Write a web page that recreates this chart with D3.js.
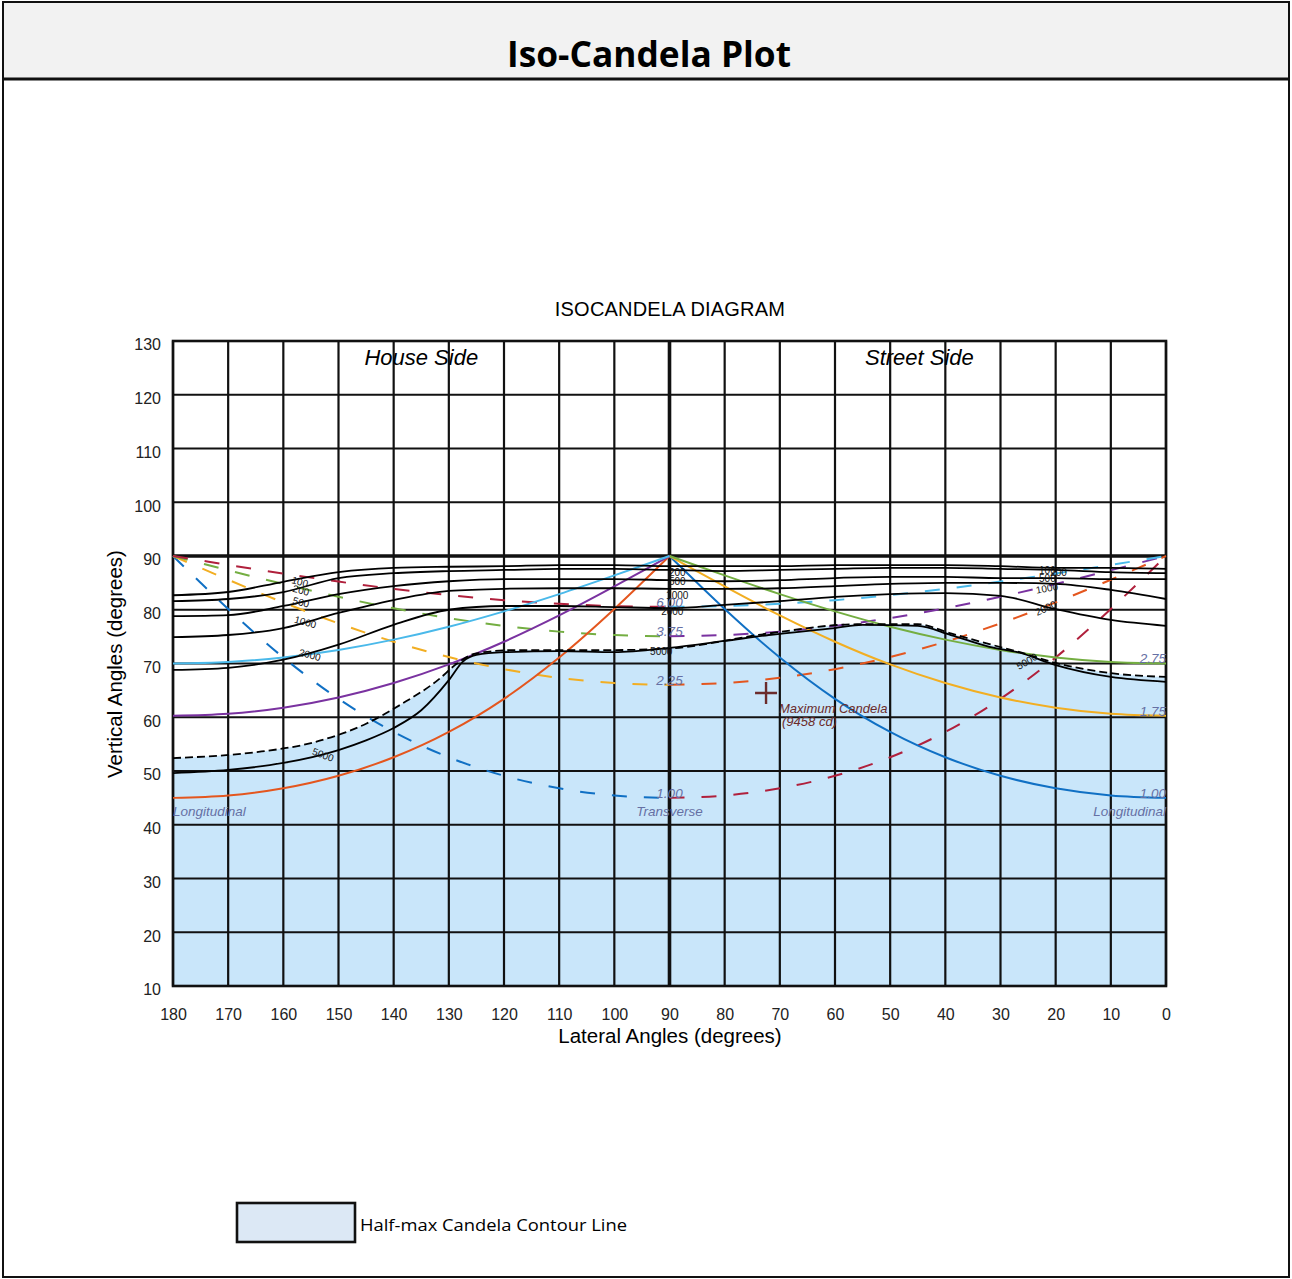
<!DOCTYPE html>
<meta charset="utf-8">
<style>
body { margin: 0; background: #fff; }
svg text { font-family: "Liberation Sans", Arial, sans-serif; }
.grid line { stroke: #111; stroke-width: 2.2; }
.grid line.main { stroke-width: 3.6; }
.contour { fill: none; stroke: #000; stroke-width: 1.8; }
.ref { fill: none; stroke-width: 2; }
.axis text { font-size: 16px; fill: #222; }
.clabel { font-size: 10px; fill: #111; }
.note { font-size: 13.5px; font-style: italic; fill: #6670a4; }
</style>
<svg width="1292" height="1279"></svg>
<script src="https://d3js.org/d3.v7.min.js"></script>
<script>
var svg = d3.select("svg"),
    width = +svg.attr("width"),
    height = +svg.attr("height");

// tick labels
var xTicks = [180,170,160,150,140,130,120,110,100,90,80,70,60,50,40,30,20,10,0];
var yTicks = [130,120,110,100,90,80,70,60,50,40,30,20,10];

// iso-candela contours, vertical angle at each lateral angle
var lateral = [180,170,160,150,140,130,120,110,100,90,80,70,60,50,40,30,20,10,0];
var c100  = [82.7,83.3,85.2,87.0,87.8,88.0,88.1,88.3,88.3,88.1,88.1,88.1,88.3,88.3,88.3,88.1,87.8,87.8,87.6];
var c200  = [81.6,82.0,83.3,85.9,86.8,87.2,87.4,87.6,87.6,87.4,87.2,87.4,87.6,87.8,87.8,87.6,87.4,87.0,86.8];
var c500  = [78.8,79.0,80.7,82.9,84.4,85.3,85.7,85.7,85.7,85.5,85.3,85.5,85.9,86.1,86.1,85.9,85.9,85.7,85.7];
var c1000 = [74.9,75.3,76.6,79.4,81.8,83.5,83.9,84.0,84.0,83.9,83.9,84.0,84.4,84.8,85.0,85.0,84.8,83.7,82.0];
var c2000 = [68.8,69.2,70.7,73.5,77.2,80.0,80.7,80.7,80.5,80.3,80.9,81.6,82.4,82.9,83.1,82.6,80.1,78.1,77.0];

var lateral5000 = [180,170,160,150,145,140,135,130,127.5,125,120,110,100,90,80,72,60,55,45,39,32,26.5,20,10,0];
var c5000 = [49.6,50.2,51.5,53.9,55.7,58.0,61.3,66.9,70.3,71.6,72.1,72.3,72.1,72.9,74.2,75.3,76.6,77.2,77.0,75.3,73.1,72.0,69.7,67.5,66.6];

var lateralHalf = [180,165,155,145,138.5,132,128.5,125,118,100,90,72,56,45,39,32,26.5,20,10,0];
var halfMax = [52.4,53.5,55.2,58.8,62.5,66.9,70.0,71.9,72.5,72.5,72.8,75.6,77.3,77.3,75.6,73.6,72.1,70.1,68.2,67.5];

// reference lines: transverse (house side lateral 90..180, street side mirrored)
var transLateral = [90,100,110,120,130,140,150,160,170,175,180];
var trans100 = [45.0,45.44,46.78,49.11,52.55,57.27,63.43,71.12,80.15,85.02,90];
var trans225 = [66.04,66.36,67.33,68.95,71.20,74.05,77.47,81.36,85.59,87.78,90];
var trans375 = [75.07,75.29,75.93,77.00,78.45,80.27,82.41,84.79,87.35,88.67,90];
var trans600 = [80.54,80.68,81.10,81.79,82.72,83.88,85.24,86.74,88.34,89.17,90];

// longitudinal (street side lateral 0..90, house side mirrored)
var longLateral = [0,10,20,30,40,50,60,70,80,85,90];
var long100 = [45.0,45.44,46.78,49.11,52.55,57.27,63.43,71.12,80.15,85.02,90];
var long175 = [60.26,60.63,61.77,63.67,66.36,69.83,74.05,78.94,84.33,87.15,90];
var long275 = [70.02,70.30,71.13,72.52,74.44,76.84,79.70,82.91,86.39,88.18,90];

var maxCandela = {lateral: 72.5, vertical: 64.5, cd: 9458};

var x = d3.scaleLinear().domain([180, 0]).range([173, 1166]);
var y = d3.scaleLinear().domain([10, 130]).range([986, 341]);

// frame and title bar
svg.append("rect").attr("x", 0).attr("y", 0).attr("width", width).attr("height", height).attr("fill", "#fff");
svg.append("rect").attr("x", 3).attr("y", 2).attr("width", 1286).attr("height", 77).attr("fill", "#f2f2f2");
svg.append("rect").attr("x", 3).attr("y", 2).attr("width", 1286).attr("height", 1275)
    .attr("fill", "none").attr("stroke", "#111").attr("stroke-width", 2);
svg.append("line").attr("x1", 3).attr("x2", 1289).attr("y1", 79).attr("y2", 79)
    .attr("stroke", "#111").attr("stroke-width", 3);
svg.append("text").attr("x", 649).attr("y", 67).attr("text-anchor", "middle")
    .style("font-family", "'Open Sans', sans-serif").style("font-weight", "bold").style("font-size", "35px")
    .attr("textLength", 284).attr("lengthAdjust", "spacingAndGlyphs")
    .text("Iso-Candela Plot");

function pairs(hs, vs) {
  return hs.map(function(h, i) { return [h, vs[i]]; })
           .sort(function(a, b) { return b[0] - a[0]; });
}
function mirror(hs) { return hs.map(function(h) { return 180 - h; }); }

var line = d3.line()
    .x(function(d) { return x(d[0]); })
    .y(function(d) { return y(d[1]); })
    .curve(d3.curveMonotoneX);

// half-max fill
var area = d3.area()
    .x(function(d) { return x(d[0]); })
    .y0(y(10))
    .y1(function(d) { return y(d[1]); })
    .curve(d3.curveMonotoneX);
svg.append("path").datum(pairs(lateralHalf, halfMax))
    .attr("d", area).attr("fill", "#c9e6fa");

// grid
var grid = svg.append("g").attr("class", "grid");
grid.selectAll("line.v").data(xTicks).enter().append("line")
    .attr("class", function(d) { return d === 90 ? "v main" : "v"; })
    .attr("x1", function(d) { return x(d); }).attr("x2", function(d) { return x(d); })
    .attr("y1", y(130)).attr("y2", y(10));
grid.selectAll("line.h").data(yTicks).enter().append("line")
    .attr("class", function(d) { return d === 90 ? "h main" : "h"; })
    .attr("x1", x(180)).attr("x2", x(0))
    .attr("y1", function(d) { return y(d); }).attr("y2", function(d) { return y(d); });
svg.append("rect").attr("x", x(180)).attr("y", y(130))
    .attr("width", x(0) - x(180)).attr("height", y(10) - y(130))
    .attr("fill", "none").attr("stroke", "#111").attr("stroke-width", 2.6);

// reference curves
var dash = "15,17";
var refs = [
  {h: transLateral, v: trans100, c: "#1070c4", d: dash},
  {h: transLateral, v: trans225, c: "#f2ae22", d: dash},
  {h: transLateral, v: trans375, c: "#74ae42", d: dash},
  {h: transLateral, v: trans600, c: "#b0203c", d: dash},
  {h: mirror(transLateral), v: trans100, c: "#b0203c", d: dash},
  {h: mirror(transLateral), v: trans225, c: "#e4561e", d: dash},
  {h: mirror(transLateral), v: trans375, c: "#7a32a0", d: dash},
  {h: mirror(transLateral), v: trans600, c: "#4ab9ea", d: dash},
  {h: longLateral, v: long100, c: "#1070c4", d: null},
  {h: longLateral, v: long175, c: "#f2ae22", d: null},
  {h: longLateral, v: long275, c: "#74ae42", d: null},
  {h: mirror(longLateral), v: long100, c: "#e4561e", d: null},
  {h: mirror(longLateral), v: long175, c: "#7a32a0", d: null},
  {h: mirror(longLateral), v: long275, c: "#4ab9ea", d: null}
];
svg.append("g").selectAll("path").data(refs).enter().append("path")
    .attr("class", "ref")
    .attr("d", function(r) { return line(pairs(r.h, r.v)); })
    .attr("stroke", function(r) { return r.c; })
    .attr("stroke-dasharray", function(r) { return r.d; });

// contours
var contours = [c100, c200, c500, c1000, c2000];
svg.append("g").selectAll("path").data(contours).enter().append("path")
    .attr("class", "contour")
    .attr("d", function(v) { return line(pairs(lateral, v)); });
svg.append("path").attr("class", "contour").attr("d", line(pairs(lateral5000, c5000)));
svg.append("path").attr("class", "contour").attr("stroke-width", 2.2)
    .attr("stroke-dasharray", "8,4").attr("d", line(pairs(lateralHalf, halfMax)));

// contour labels [text, lateral, vertical, rotation]
var contourLabels = [
  ["100", 157, 85.2, 15], ["200", 156.8, 83.6, 15], ["500", 156.8, 81.4, 15],
  ["1000", 156, 77.7, 15], ["2000", 155.2, 71.6, 15], ["5000", 152.8, 53.0, 20],
  ["200", 88.6, 86.9, 0], ["500", 88.6, 85.2, 0], ["1000", 88.6, 82.7, 0],
  ["2000", 89.5, 79.6, 0], ["5000", 91.5, 72.3, 0],
  ["100", 21.5, 87.3, 0], ["200", 19.5, 87.0, 0], ["500", 21.5, 85.9, 0],
  ["1000", 21.6, 84.0, -10], ["2000", 21.8, 80.3, -25], ["5000", 25.2, 70.4, -30]
];
svg.append("g").selectAll("text").data(contourLabels).enter().append("text")
    .attr("class", "clabel").attr("text-anchor", "middle")
    .attr("transform", function(d) { return "translate(" + x(d[1]) + "," + y(d[2]) + ") rotate(" + d[3] + ")"; })
    .attr("dy", "0.35em")
    .text(function(d) { return d[0]; });

// curve end notes
var notes = [
  ["6.00", 90, 80.54, "middle", 0], ["3.75", 90, 75.07, "middle", 0],
  ["2.25", 90, 66.04, "middle", 0], ["1.00", 90, 45.0, "middle", 0],
  ["Transverse", 90, 45.0, "middle", 18],
  ["2.75", 0, 70.02, "end", 0], ["1.75", 0, 60.26, "end", 0],
  ["1.00", 0, 45.0, "end", 0], ["Longitudinal", 0, 45.0, "end", 18],
  ["Longitudinal", 180, 45.0, "start", 18]
];
svg.append("g").selectAll("text").data(notes).enter().append("text")
    .attr("class", "note")
    .attr("x", function(d) { return x(d[1]); })
    .attr("y", function(d) { return y(d[2]) + d[4]; })
    .attr("text-anchor", function(d) { return d[3]; })
    .text(function(d) { return d[0]; });

// maximum candela
var mx = x(maxCandela.lateral), my = y(maxCandela.vertical);
svg.append("path").attr("d", "M" + (mx - 11) + "," + my + "H" + (mx + 11) + "M" + mx + "," + (my - 11) + "V" + (my + 11))
    .attr("stroke", "#6b2c2c").attr("stroke-width", 2.4);
svg.append("text").attr("x", mx + 13).attr("y", my + 20).attr("class", "note")
    .style("fill", "#6b2c2c").style("font-size", "13px")
    .text("Maximum Candela");
svg.append("text").attr("x", mx + 16).attr("y", my + 33).attr("class", "note")
    .style("fill", "#6b2c2c").style("font-size", "13px")
    .text("(" + maxCandela.cd + " cd)");

// side labels
svg.append("text").attr("x", x(135)).attr("y", y(125.6)).attr("text-anchor", "middle")
    .style("font-size", "22px").style("font-style", "italic").text("House Side");
svg.append("text").attr("x", x(44.7)).attr("y", y(125.6)).attr("text-anchor", "middle")
    .style("font-size", "22px").style("font-style", "italic").text("Street Side");

// axes
svg.append("g").attr("class", "axis").attr("transform", "translate(0," + y(10) + ")")
    .call(d3.axisBottom(x).tickValues(xTicks).tickSize(0).tickPadding(23))
    .call(function(g) { g.select(".domain").remove(); });
svg.append("g").attr("class", "axis").attr("transform", "translate(" + x(180) + ",0)")
    .call(d3.axisLeft(y).tickValues(yTicks).tickSize(0).tickPadding(12))
    .call(function(g) { g.select(".domain").remove(); g.selectAll("text").attr("dy", "0.55em"); });
svg.selectAll(".axis text").style("font-family", "'Liberation Sans', Arial, sans-serif");

svg.append("text").attr("x", 670).attr("y", 316).attr("text-anchor", "middle")
    .style("font-size", "20px").style("letter-spacing", "0.2px").text("ISOCANDELA DIAGRAM");
svg.append("text").attr("x", 670).attr("y", 1043).attr("text-anchor", "middle")
    .style("font-size", "20.5px").text("Lateral Angles (degrees)");
svg.append("text").attr("transform", "translate(122,664) rotate(-90)").attr("text-anchor", "middle")
    .style("font-size", "20.5px").text("Vertical Angles (degrees)");

// legend
svg.append("rect").attr("x", 237).attr("y", 1203).attr("width", 118).attr("height", 39)
    .attr("fill", "#dce8f5").attr("stroke", "#111").attr("stroke-width", 2.6);
svg.append("text").attr("x", 360).attr("y", 1231)
    .style("font-family", "'Open Sans', sans-serif").style("font-size", "17px")
    .attr("textLength", 267).attr("lengthAdjust", "spacingAndGlyphs")
    .text("Half-max Candela Contour Line");
</script>
